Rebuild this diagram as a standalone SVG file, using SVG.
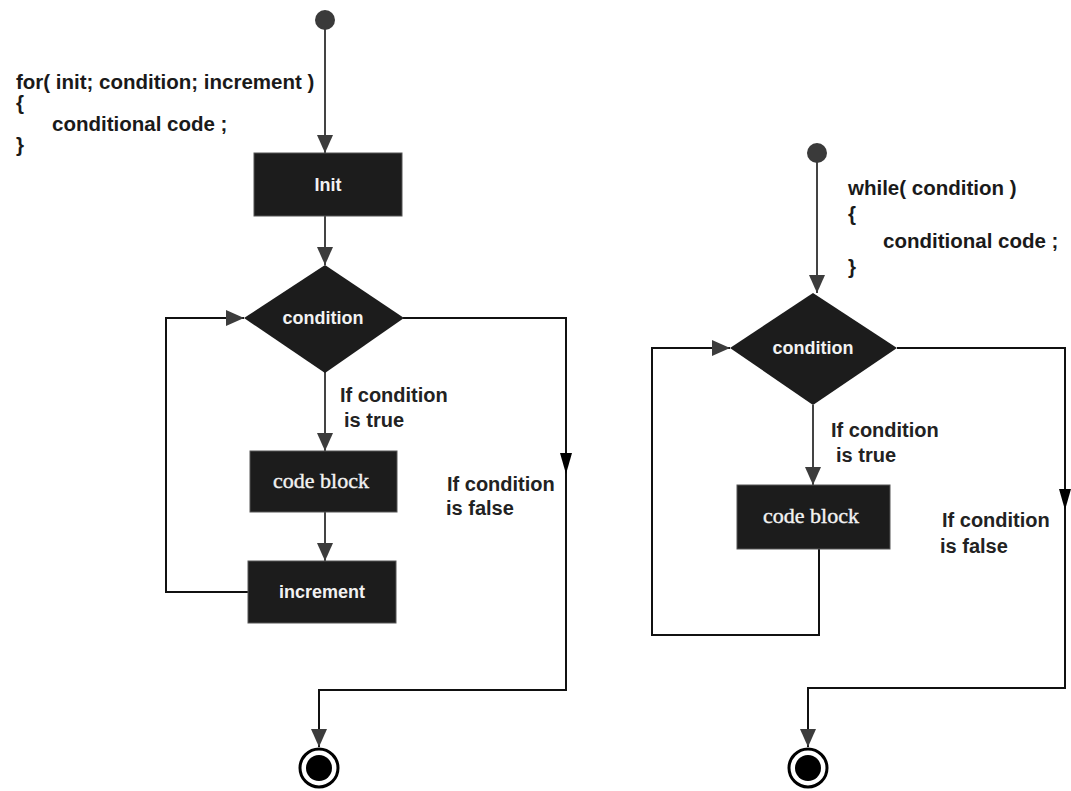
<svg xmlns="http://www.w3.org/2000/svg" width="1071" height="791" viewBox="0 0 1071 791">
<defs>
<style>
.box{fill:#1c1c1c;stroke:#555;stroke-width:1}
.dia{fill:#1c1c1c}
.nl{font-family:"Liberation Sans",Arial,sans-serif;font-weight:bold;font-size:18px;fill:#f2f2f2;text-anchor:middle}
.cb{font-family:"Liberation Serif","Times New Roman",serif;font-size:22px;fill:#f2f2f2;text-anchor:middle;stroke:#f2f2f2;stroke-width:0.4}
.lbl{font-family:"Liberation Sans",Arial,sans-serif;font-weight:bold;font-size:20px;fill:#222}
.code{font-family:"Liberation Sans",Arial,sans-serif;font-weight:bold;font-size:20.5px;fill:#1a1a1a}
.ln{fill:none;stroke:#444;stroke-width:2}
.lk{fill:none;stroke:#111;stroke-width:2}
.start{fill:#3a3a3a}
</style>
<marker id="arr" viewBox="0 0 18 16" refX="18" refY="8" markerWidth="18" markerHeight="16" markerUnits="userSpaceOnUse" orient="auto">
<path d="M0,0 L18,8 L0,16 z" fill="#3c3c3c"/>
</marker>
</defs>
<rect width="1071" height="791" fill="#fff"/>

<g id="code-for">
<text class="code" x="16" y="89">for( init; condition; increment )</text>
<text class="code" x="16" y="110">{</text>
<text class="code" x="52" y="131">conditional code ;</text>
<text class="code" x="16" y="152">}</text>
</g>
<g id="code-while">
<text class="code" x="848" y="195">while( condition )</text>
<text class="code" x="848" y="221">{</text>
<text class="code" x="883" y="248">conditional code ;</text>
<text class="code" x="848" y="274">}</text>
</g>

<g id="connectors">
<path class="ln" d="M325,20 V153" marker-end="url(#arr)"/>
<path class="ln" d="M325,216 V265" marker-end="url(#arr)"/>
<path class="ln" d="M325,372 V451" marker-end="url(#arr)"/>
<path class="ln" d="M325,512 V561" marker-end="url(#arr)"/>
<path class="lk" d="M248,592 H166 V318 H244" marker-end="url(#arr)"/>
<path class="lk" d="M403,318 H566 V690 H319 V747" marker-end="url(#arr)"/>
<polygon points="560,453 572,453 566,474" fill="#000"/>

<path class="ln" d="M817,153 V293" marker-end="url(#arr)"/>
<path class="ln" d="M813,405 V485" marker-end="url(#arr)"/>
<path class="lk" d="M819,549 V635 H652 V348 H730" marker-end="url(#arr)"/>
<path class="lk" d="M897,348 H1065 V688 H808 V747" marker-end="url(#arr)"/>
<polygon points="1059,489 1071,489 1065,510" fill="#000"/>
</g>

<g id="start-for"><circle class="start" cx="325" cy="20" r="10"/></g>
<g id="init"><rect class="box" x="254" y="153" width="148" height="63"/><text class="nl" x="328" y="191">Init</text></g>
<g id="cond-for"><polygon class="dia" points="325,265 404,318 325,373 244,318"/><text class="nl" x="323" y="324">condition</text></g>
<g id="codeblock-for"><rect class="box" x="250" y="451" width="147" height="61"/><text class="cb" x="321" y="488">code block</text></g>
<g id="increment"><rect class="box" x="248" y="561" width="148" height="62"/><text class="nl" x="322" y="598">increment</text></g>
<g id="end-for"><circle cx="319" cy="768" r="19" fill="#fff" stroke="#000" stroke-width="3"/><circle cx="319" cy="768" r="13" fill="#000"/></g>

<g id="label-for-true"><text class="lbl" x="340" y="402">If condition</text><text class="lbl" x="344" y="427">is true</text></g>
<g id="label-for-false"><text class="lbl" x="447" y="491">If condition</text><text class="lbl" x="446" y="515">is false</text></g>

<g id="start-while"><circle class="start" cx="817" cy="153" r="10"/></g>
<g id="cond-while"><polygon class="dia" points="813,293 897,348 813,405 730,348"/><text class="nl" x="813" y="354">condition</text></g>
<g id="codeblock-while"><rect class="box" x="737" y="485" width="153" height="64"/><text class="cb" x="811" y="523">code block</text></g>
<g id="end-while"><circle cx="808" cy="768" r="19" fill="#fff" stroke="#000" stroke-width="3"/><circle cx="808" cy="768" r="13" fill="#000"/></g>

<g id="label-while-true"><text class="lbl" x="831" y="437">If condition</text><text class="lbl" x="836" y="462">is true</text></g>
<g id="label-while-false"><text class="lbl" x="942" y="527">If condition</text><text class="lbl" x="940" y="553">is false</text></g>
</svg>
